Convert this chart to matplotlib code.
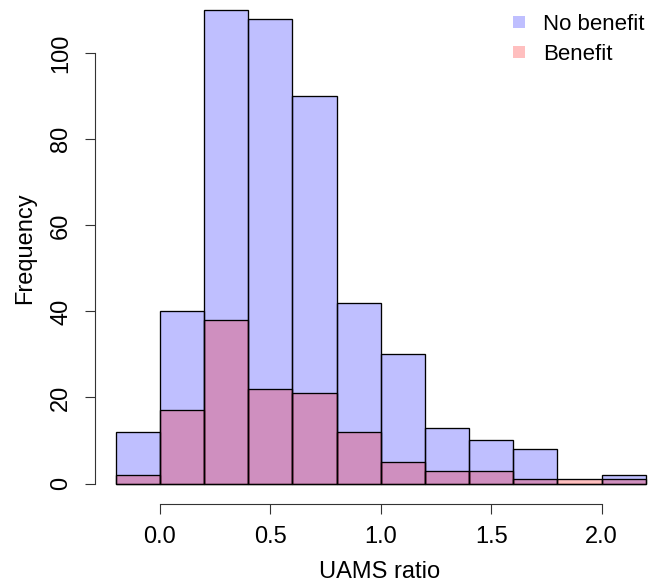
import matplotlib
matplotlib.use("Agg")
import matplotlib.pyplot as plt
import numpy as np

plt.rcParams['font.family'] = ['Liberation Sans', 'DejaVu Sans']

bin_edges = [-0.2, 0.0, 0.2, 0.4, 0.6, 0.8, 1.0, 1.2, 1.4, 1.6, 1.8, 2.0, 2.2]
no_benefit = [12, 40, 110, 108, 90, 42, 30, 13, 10, 8, 0, 2]
benefit = [2, 17, 38, 22, 21, 12, 5, 3, 3, 1, 1, 1]
x_ticks = [0.0, 0.5, 1.0, 1.5, 2.0]
x_tick_labels = ["0.0", "0.5", "1.0", "1.5", "2.0"]
y_ticks = [0, 20, 40, 60, 80, 100]
series_names = ["No benefit", "Benefit"]

W, H = 658, 582
fig = plt.figure(figsize=(W / 100, H / 100), dpi=100)

# axes placement in pixel coordinates
px_left, px_right, px_top, px_bottom = 95, 658, 0, 503.5
ax = fig.add_axes([px_left / W, 1 - px_bottom / H, (px_right - px_left) / W, (px_bottom - px_top) / H])

# data-to-pixel mapping: x=0 -> 160px, 220.8 px/unit ; y=0 -> 483.5px, 4.302 px/unit
x0px, xs = 160.0, 220.8
y0px, ys = 483.5, 4.302
ax.set_xlim((px_left - x0px) / xs, (px_right - x0px) / xs)
ax.set_ylim(-(px_bottom - y0px) / ys, (y0px - px_top) / ys)

edges = np.array(bin_edges)
lefts = edges[:-1]
widths = np.diff(edges)
blue = (0, 0, 1, 0.25)
red = (1, 0, 0, 0.25)
ax.bar(lefts, no_benefit, width=widths, align='edge', color=blue, edgecolor='black', linewidth=0.95)
ax.bar(lefts, benefit, width=widths, align='edge', color=red, edgecolor='black', linewidth=0.95)

for s in ['top', 'right']:
    ax.spines[s].set_visible(False)
ax.spines['bottom'].set_bounds(0, 2)
ax.spines['left'].set_bounds(0, 100)
ax.spines['bottom'].set_color('#333333')
ax.spines['left'].set_color('#333333')

ax.set_xticks(x_ticks)
ax.set_xticklabels(x_tick_labels)
ax.set_yticks(y_ticks)
ax.set_yticklabels([str(v) for v in y_ticks], rotation=90, va='center')
ax.tick_params(axis='both', length=7.5, width=0.8, color='#333333', labelsize=17, pad=9)
ax.patch.set_visible(False)

fig.text(380 / W, 1 - 572 / H, "UAMS ratio", ha='center', va='center', fontsize=17)
fig.text(25 / W, 1 - 248 / H, "Frequency", ha='center', va='center', rotation=90, fontsize=17)

# legend
for i, (name, col) in enumerate(zip(series_names, [blue, red])):
    yc = 22 + i * 30
    fig.patches.append(plt.Rectangle(((519 - 6) / W, 1 - (yc + 6) / H), 12 / W, 12 / H,
                                     transform=fig.transFigure, facecolor=col, edgecolor='none'))
    fig.text(543 / W, 1 - (yc + 2) / H, name, ha='left', va='center', fontsize=16)

fig.savefig("out.png", dpi=100)
